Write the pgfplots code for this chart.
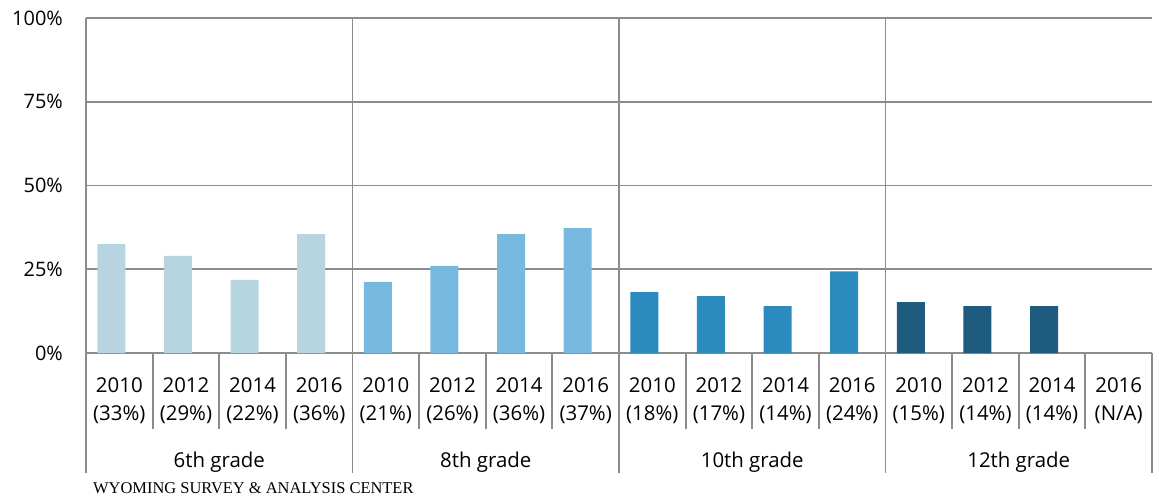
\documentclass[border=0pt]{standalone}
\usepackage{pgfplots}
\pgfplotsset{compat=1.18}
\usepackage{fontspec}
\setmainfont{Open Sans}
\newfontfamily\footerfont{Liberation Serif}
\definecolor{gridgray}{RGB}{140,140,140}
\definecolor{gsix}{RGB}{182,213,225}
\definecolor{geight}{RGB}{119,185,223}
\definecolor{gten}{RGB}{43,139,190}
\definecolor{gtwelve}{RGB}{31,91,126}
\begin{document}
\begin{tikzpicture}
\useasboundingbox (-86bp,-147bp) rectangle (1073bp,353bp);
\begin{axis}[
  at={(0,0)}, anchor=south west,
  scale only axis, width=1066bp, height=335bp,
  xmin=0.5, xmax=16.5, ymin=0, ymax=100,
  axis line style={draw=none},
  major tick length=0pt,
  ytick={0,25,50,75,100},
  yticklabel={\pgfmathprintnumber{\tick}\%},
  yticklabel style={font=\fontsize{20}{24}\selectfont, inner sep=0pt, anchor=east, xshift=-23bp},
  /pgf/number format/assume math mode=true,
  ymajorgrids, grid style={gridgray, line width=1.8bp},
  xtick={1,...,16},
  xticklabels={{2010\\(33\%)},{2012\\(29\%)},{2014\\(22\%)},{2016\\(36\%)},
               {2010\\(21\%)},{2012\\(26\%)},{2014\\(36\%)},{2016\\(37\%)},
               {2010\\(18\%)},{2012\\(17\%)},{2014\\(14\%)},{2016\\(24\%)},
               {2010\\(15\%)},{2012\\(14\%)},{2014\\(14\%)},{2016\\(N/A)}},
  xticklabel style={font=\fontsize{20.5}{29}\selectfont, align=center, inner sep=0pt, anchor=north, yshift=-24bp},
  ybar, bar width=28bp,
  clip=false,
]
\addplot[fill=gsix, draw=none, bar shift=-8bp] coordinates {(1,32.5) (2,29.0) (3,21.8) (4,35.5)};
\addplot[fill=geight, draw=none, bar shift=-8bp] coordinates {(5,21.2) (6,26.0) (7,35.5) (8,37.3)};
\addplot[fill=gten, draw=none, bar shift=-8bp] coordinates {(9,18.2) (10,17.0) (11,14.0) (12,24.4)};
\addplot[fill=gtwelve, draw=none, bar shift=-8bp] coordinates {(13,15.2) (14,14.0) (15,14.0)};
\pgfplotsinvokeforeach{0.5,4.5,8.5,12.5}{
  \draw[gridgray, line width=1.8bp] (axis cs:#1,100) -- ([yshift=-120bp]axis cs:#1,0);
}
\draw[gridgray, line width=1.8bp] (axis cs:16.5,0) -- ([yshift=-120bp]axis cs:16.5,0);
\pgfplotsinvokeforeach{1.5,2.5,3.5,5.5,6.5,7.5,9.5,10.5,11.5,13.5,14.5,15.5}{
  \draw[gridgray, line width=1.8bp] (axis cs:#1,0) -- ([yshift=-76bp]axis cs:#1,0);
}
\node[anchor=base, font=\fontsize{20.5}{24}\selectfont] at ([yshift=-114bp]axis cs:2.5,0) {6th grade};
\node[anchor=base, font=\fontsize{20.5}{24}\selectfont] at ([yshift=-114bp]axis cs:6.5,0) {8th grade};
\node[anchor=base, font=\fontsize{20.5}{24}\selectfont] at ([yshift=-114bp]axis cs:10.5,0) {10th grade};
\node[anchor=base, font=\fontsize{20.5}{24}\selectfont] at ([yshift=-114bp]axis cs:14.5,0) {12th grade};
\node[anchor=base west, inner sep=0pt, font=\footerfont\fontsize{16.5}{20}\selectfont] at ([xshift=7bp,yshift=-140bp]axis cs:0.5,0) {WYOMING SURVEY \& ANALYSIS CENTER};
\end{axis}
\end{tikzpicture}
\end{document}
